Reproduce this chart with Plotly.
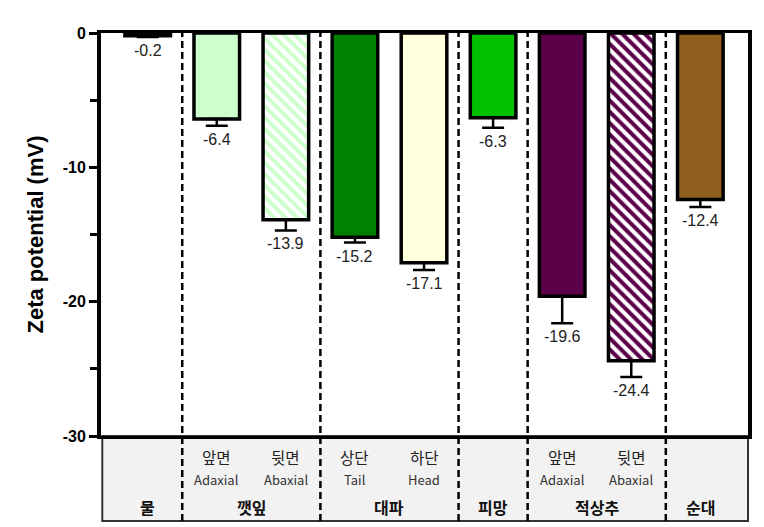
import plotly.graph_objects as go

# ---- data ----
groups = ["물", "깻잎", "대파", "피망", "적상추", "순대"]
group_members = [[0], [1, 2], [3, 4], [5], [6, 7], [8]]
sub_kr = ["", "앞면", "뒷면", "상단", "하단", "", "앞면", "뒷면", ""]
sub_en = ["", "Adaxial", "Abaxial", "Tail", "Head", "", "Adaxial", "Abaxial", ""]
values = [-0.2, -6.4, -13.9, -15.2, -17.1, -6.3, -19.6, -24.4, -12.4]
errors = [0.1, 0.5, 0.8, 0.4, 0.55, 0.75, 2.0, 1.2, 0.55]
colors = ["#ffffff", "#ccffcc", "#ccffcc", "#008000", "#ffffdd", "#00c000",
          "#5c004a", "#5c004a", "#8f5f1f"]
hatch = ["", "", "\\", "", "", "", "", "\\", ""]
hatch_fg = ["#ffffff"] * 9
separators = [0.5, 2.5, 4.5, 5.5, 7.5]
yticks = [0, -10, -20, -30]
yminor = [-5, -15, -25]

xs = list(range(len(values)))
font_main = "Arial, Liberation Sans, sans-serif"
font_kr = "Noto Sans CJK KR, sans-serif"

fig = go.Figure()
fig.add_trace(go.Bar(
    x=xs, y=values, width=0.66,
    marker=dict(color=colors, line=dict(color="black", width=3.5),
                pattern=dict(shape=hatch, bgcolor=colors, fgcolor=hatch_fg,
                             size=8, solidity=0.5, fillmode="replace")),
    error_y=dict(type="data", symmetric=False, array=[0] * 9, arrayminus=errors,
                 color="black", thickness=2.5, width=11),
    showlegend=False, hoverinfo="skip",
))

tb = -(521 - 436) / 403.0
shapes = [dict(type="rect", xref="paper", yref="paper", x0=0.002, x1=1, y0=tb, y1=0,
               fillcolor="#f2f2f2", line=dict(color="#333333", width=2), layer="below")]
for s in separators:
    shapes.append(dict(type="line", xref="x", yref="paper", x0=s, x1=s, y0=tb, y1=1,
                       line=dict(color="black", width=2.5, dash="7px,4px")))

ann = []
for i, (v, e) in enumerate(zip(values, errors)):
    ann.append(dict(x=i, y=v - e, xref="x", yref="y", text=f"{v:.1f}", showarrow=False,
                    yanchor="top", yshift=-3,
                    font=dict(family=font_main, size=16, color="#222222")))
for i in xs:
    if sub_kr[i]:
        ann.append(dict(x=i, y=(436 - 457) / 403.0, xref="x", yref="paper", text=sub_kr[i],
                        yanchor="middle", showarrow=False,
                        font=dict(family=font_kr, size=15.5, color="#222")))
        ann.append(dict(x=i, y=(436 - 479) / 403.0, xref="x", yref="paper", text=sub_en[i],
                        yanchor="middle", showarrow=False,
                        font=dict(family=font_kr, size=13, color="#333")))
for g, mem in zip(groups, group_members):
    ann.append(dict(x=sum(mem) / len(mem), y=(436 - 507) / 403.0, xref="x", yref="paper",
                    text=f"<b>{g}</b>", yanchor="middle", showarrow=False,
                    font=dict(family=font_kr, size=16, color="#111")))

fig.update_layout(
    width=764, height=527,
    margin=dict(l=101, r=12, t=33, b=91),
    plot_bgcolor="white", paper_bgcolor="white",
    shapes=shapes, annotations=ann,
    xaxis=dict(range=[-0.676, 8.69], showticklabels=False, ticks="", showgrid=False,
               zeroline=False, showline=True, linecolor="black", linewidth=3, mirror=True),
    yaxis=dict(range=[-30, 0], tickvals=yticks, ticktext=[str(t) for t in yticks],
               ticks="outside", ticklen=8, tickwidth=3, tickcolor="black",
               minor=dict(tickvals=yminor, ticks="outside", ticklen=7, tickwidth=3,
                          tickcolor="black"),
               tickfont=dict(family=font_main, size=16, color="black", weight="bold"),
               showgrid=False, zeroline=False, showline=True, linecolor="black",
               linewidth=4, mirror=True,
               title=dict(text="Zeta potential (mV)", standoff=14,
                          font=dict(family=font_main, size=22, color="black", weight="bold"))),
    bargap=0.3,
)

fig.write_html("out.html")
